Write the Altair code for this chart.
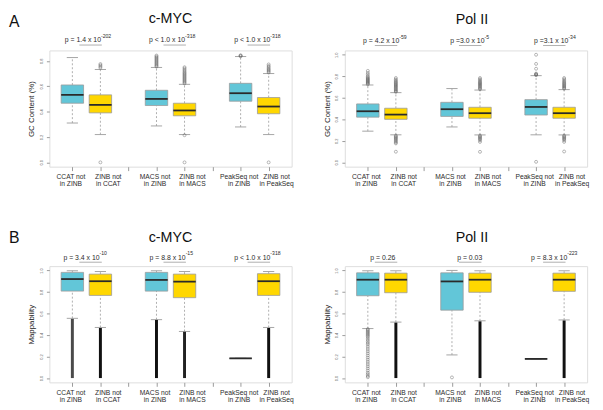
import altair as alt
import pandas as pd

FONT = "Liberation Sans"

# ---------------- shared categories ----------------
POS = [1, 2, 4, 5, 7, 8]
LABELS = ["CCAT not\nin ZINB", "ZINB not\nin CCAT", "MACS not\nin ZINB",
          "ZINB not\nin MACS", "PeakSeq not\nin ZINB", "ZINB not\nin PeakSeq"]
COLORS = ["#62C6D8", "#FFD700", "#62C6D8", "#FFD700", "#62C6D8", "#FFD700"]
XTICKS = [1, 2, 3, 4, 5, 6, 7, 8]

# ---------------- A: c-MYC GC content ----------------
MYC_GC_LW = [0.31, 0.219, 0.287, 0.219, 0.279, 0.219]
MYC_GC_Q1 = [0.466, 0.39, 0.448, 0.367, 0.482, 0.383]
MYC_GC_MED = [0.532, 0.453, 0.50, 0.409, 0.545, 0.44]
MYC_GC_Q3 = [0.61, 0.532, 0.568, 0.466, 0.623, 0.511]
MYC_GC_UW = [0.826, 0.732, 0.748, 0.615, 0.834, 0.70]
MYC_GC_OUT = [
    [],
    [0.745, 0.755, 0.765, 0.775, 0.0],
    [0.755, 0.762, 0.77, 0.778, 0.786, 0.794, 0.802, 0.81, 0.818, 0.826, 0.834, 0.842],
    [0.622, 0.63, 0.638, 0.646, 0.654, 0.662, 0.67, 0.678, 0.686, 0.694, 0.702,
     0.71, 0.72, 0.73, 0.74, 0.75, 0.214, 0.0],
    [0.836, 0.84, 0.844],
    [0.708, 0.716, 0.724, 0.732, 0.74, 0.75, 0.76, 0.772, 0.0],
]
MYC_GC_PTXT = ["p = 1.4 x 10", "p < 1.0 x 10", "p < 1.0 x 10"]
MYC_GC_PSUP = ["-202", "-318", "-318"]
MYC_GC_PANCHOR = [2.02, 5.02, 8.06]

# ---------------- A: Pol II GC content ----------------
POL_GC_LW = [0.29, 0.256, 0.329, 0.255, 0.256, 0.255]
POL_GC_Q1 = [0.42, 0.40, 0.427, 0.41, 0.44, 0.41]
POL_GC_MED = [0.475, 0.444, 0.494, 0.457, 0.515, 0.457]
POL_GC_Q3 = [0.543, 0.503, 0.558, 0.512, 0.583, 0.512]
POL_GC_UW = [0.719, 0.648, 0.686, 0.672, 0.806, 0.676]
POL_GC_OUT = [
    [0.725, 0.732, 0.739, 0.746, 0.753, 0.76, 0.767, 0.774, 0.782, 0.79, 0.80, 0.815, 0.83, 0.85],
    [0.655, 0.662, 0.67, 0.678, 0.686, 0.694, 0.702, 0.71, 0.718, 0.726, 0.734, 0.742,
     0.75, 0.76, 0.77, 0.784, 0.248, 0.24, 0.232, 0.224, 0.215, 0.205, 0.195, 0.185, 0.176, 0.099],
    [],
    [0.68, 0.688, 0.696, 0.704, 0.712, 0.72, 0.728, 0.736, 0.744, 0.752, 0.762, 0.772, 0.784,
     0.248, 0.24, 0.232, 0.224, 0.215, 0.205, 0.19, 0.098],
    [0.81, 0.815, 0.82, 0.825, 0.87, 0.915, 1.0, 0.005],
    [0.684, 0.692, 0.70, 0.708, 0.716, 0.724, 0.732, 0.74, 0.75, 0.76, 0.772, 0.784,
     0.248, 0.24, 0.232, 0.224, 0.215, 0.205, 0.19, 0.101],
]
POL_GC_PTXT = ["p = 4.2 x 10", "p =3.0 x 10", "p =3.1 x 10"]
POL_GC_PSUP = ["-59", "-5", "-34"]
POL_GC_PANCHOR = [2.12, 5.16, 8.15]

# ---------------- B: c-MYC mappability ----------------
MYC_MAP_LW = [0.555, 0.47, 0.543, 0.433, 0.183, 0.47]
MYC_MAP_Q1 = [0.808, 0.768, 0.808, 0.747, 0.183, 0.768]
MYC_MAP_MED = [0.92, 0.90, 0.912, 0.896, 0.183, 0.90]
MYC_MAP_Q3 = [0.982, 0.966, 0.982, 0.966, 0.183, 0.97]
MYC_MAP_UW = [0.997, 0.99, 0.997, 0.99, 0.183, 0.99]
MYC_MAP_OUT = [[], [], [], [], [], []]
MYC_MAP_BAND_BOX = [0, 1, 2, 3, 5]
MYC_MAP_BAND_LO = [0.0, 0.0, 0.0, 0.0, 0.0]
MYC_MAP_BAND_HI = [0.55, 0.465, 0.54, 0.43, 0.465]
MYC_MAP_BAND_SHADE = ["#4a4a4a", "#111111", "#111111", "#222222", "#111111"]
MYC_MAP_PTXT = ["p = 3.4 x 10", "p = 8.8 x 10", "p < 1.0 x 10"]
MYC_MAP_PSUP = ["-10", "-15", "-318"]
MYC_MAP_PANCHOR = [1.97, 5.04, 8.06]

# ---------------- B: Pol II mappability ----------------
POL_MAP_LW = [0.46, 0.52, 0.215, 0.532, 0.178, 0.54]
POL_MAP_Q1 = [0.765, 0.793, 0.631, 0.797, 0.178, 0.806]
POL_MAP_MED = [0.914, 0.914, 0.898, 0.914, 0.178, 0.914]
POL_MAP_Q3 = [0.978, 0.975, 0.978, 0.975, 0.178, 0.975]
POL_MAP_UW = [0.997, 0.997, 1.0, 0.997, 0.178, 0.997]
POL_MAP_OUT = [
    [0.455, 0.445, 0.435, 0.425, 0.415, 0.405, 0.395, 0.385, 0.37, 0.355, 0.34, 0.325,
     0.31, 0.29, 0.27, 0.25, 0.23, 0.21, 0.19, 0.17, 0.15, 0.13, 0.11, 0.09, 0.07,
     0.05, 0.035, 0.02, 0.008],
    [], [0.006], [], [], [],
]
POL_MAP_BAND_BOX = [1, 3, 5]
POL_MAP_BAND_LO = [0.0, 0.0, 0.0]
POL_MAP_BAND_HI = [0.515, 0.527, 0.535]
POL_MAP_BAND_SHADE = ["#111111", "#111111", "#111111"]
POL_MAP_PTXT = ["p = 0.26", "p = 0.03", "p = 8.3 x 10"]
POL_MAP_PSUP = ["", "", "-223"]
POL_MAP_PANCHOR = [1.98, 5.08, 8.11]

PLINE_LO = [1.25, 4.25, 7.25]
PLINE_HI = [2.05, 5.05, 8.05]

W = 246
H = 118
XDOM = [0.18, 8.82]
GRAY = "#9a9a9a"
TXT = "#2b2b2b"


def panel(lw, q1, med, q3, uw, outs, band_box, band_lo, band_hi, band_shade,
          ptxt, psup, panchor, title, title_dx, title_base, letter, ytitle,
          yticks, ydom, p_base, p_sup_base, p_line):
    box = pd.DataFrame({"pos": POS, "label": LABELS, "color": COLORS,
                        "lw": lw, "q1": q1, "med": med, "q3": q3, "uw": uw})
    orows = [{"pos": POS[i], "v": v} for i, lst in enumerate(outs) for v in lst]
    odf = pd.DataFrame(orows, columns=["pos", "v"])
    bdf = pd.DataFrame({"pos": [POS[i] for i in band_box], "lo": band_lo,
                        "hi": band_hi, "shade": band_shade})
    pdf = pd.DataFrame({"anchor": panchor, "ptext": ptxt, "psup": psup,
                        "plo": PLINE_LO, "phi": PLINE_HI})

    xaxis = alt.Axis(values=XTICKS, labels=False, title=None, tickSize=4,
                     tickColor=GRAY, domain=False, grid=False)
    yaxis = alt.Axis(title=ytitle, values=yticks, format=".1f", labelAngle=270,
                     labelAlign="center", labelBaseline="bottom", labelFontSize=4,
                     labelColor="#666", labelPadding=3, tickSize=3, tickColor=GRAY,
                     domain=False, grid=False, titleFontSize=8,
                     titleFontWeight="normal", titleColor="#222", titleX=-18,
                     titleY=H / 2, titleAngle=270, titleAlign="center",
                     titleBaseline="middle")
    xs = alt.Scale(domain=XDOM, nice=False, zero=False)
    ys = alt.Scale(domain=ydom, nice=False, zero=False)

    def X(f):
        return alt.X(f + ":Q", scale=xs, axis=xaxis)

    def Y(f):
        return alt.Y(f + ":Q", scale=ys, axis=yaxis)

    base = alt.Chart(box).transform_calculate(
        xlo="datum.pos - 0.4", xhi="datum.pos + 0.4",
        clo="datum.pos - 0.2", chi="datum.pos + 0.2")

    layers = []
    layers.append(base.mark_rule(strokeWidth=0.8, strokeDash=[2, 2], stroke=GRAY).encode(
        x=X("pos"), y=Y("lw"), y2="q1"))
    layers.append(base.mark_rule(strokeWidth=0.8, strokeDash=[2, 2], stroke=GRAY).encode(
        x=X("pos"), y=Y("q3"), y2="uw"))
    layers.append(base.mark_rule(strokeWidth=0.9, stroke=GRAY).encode(
        x=X("clo"), x2="chi", y=Y("lw")))
    layers.append(base.mark_rule(strokeWidth=0.9, stroke=GRAY).encode(
        x=X("clo"), x2="chi", y=Y("uw")))
    if len(bdf):
        layers.append(alt.Chart(bdf).mark_rule(strokeWidth=3.0).encode(
            x=X("pos"), y=Y("lo"), y2="hi",
            stroke=alt.Stroke("shade:N", scale=None, legend=None)))
    layers.append(base.mark_rect(stroke=GRAY, strokeWidth=0.8).encode(
        x=X("xlo"), x2="xhi", y=Y("q1"), y2="q3",
        fill=alt.Fill("color:N", scale=None, legend=None)))
    layers.append(base.mark_rule(strokeWidth=1.8, stroke="#2a2a2a").encode(
        x=X("xlo"), x2="xhi", y=Y("med")))
    if len(odf):
        layers.append(alt.Chart(odf).mark_point(
            shape="circle", filled=False, size=9, strokeWidth=0.6,
            stroke="#555555").encode(x=X("pos"), y=Y("v")))
    # p-value annotations
    pch = alt.Chart(pdf)
    layers.append(pch.mark_text(align="right", baseline="alphabetic", fontSize=7,
                                font=FONT, fill=TXT).encode(
        x=X("anchor"), y=alt.value(p_base), text="ptext:N"))
    layers.append(pch.mark_text(align="left", baseline="alphabetic", fontSize=5.2,
                                font=FONT, fill=TXT).encode(
        x=X("anchor"), y=alt.value(p_sup_base), text="psup:N"))
    layers.append(pch.mark_rule(strokeWidth=0.8, stroke=GRAY).encode(
        x=X("plo"), x2="phi", y=alt.value(p_line)))
    # category labels (first of each pair slightly left, second shifted right)
    lab = alt.Chart(box)
    layers.append(lab.transform_filter(f"datum.color == '{COLORS[0]}'").mark_text(
        align="center", baseline="alphabetic", fontSize=6.8, lineBreak="\n",
        lineHeight=7.5, font=FONT, fill=TXT, dx=-1.5).encode(
        x=X("pos"), y=alt.value(H + 12.5), text="label:N"))
    layers.append(lab.transform_filter(f"datum.color == '{COLORS[1]}'").mark_text(
        align="center", baseline="alphabetic", fontSize=6.8, lineBreak="\n",
        lineHeight=7.5, font=FONT, fill=TXT, dx=8).encode(
        x=X("pos"), y=alt.value(H + 12.5), text="label:N"))
    # panel title
    tdf = pd.DataFrame({"ttl": [title]})
    layers.append(alt.Chart(tdf).mark_text(
        align="center", baseline="alphabetic", fontSize=14.5,
        font=FONT, fill="#111111").encode(
        x=alt.value(W / 2 + title_dx), y=alt.value(title_base), text="ttl:N"))
    if letter:
        ldf = pd.DataFrame({"let": [letter]})
        layers.append(alt.Chart(ldf).mark_text(
            align="left", baseline="alphabetic", fontSize=16,
            font=FONT, fill="#111111").encode(
            x=alt.value(-41), y=alt.value(-23.5), text="let:N"))
    return alt.layer(*layers).properties(width=W, height=H)


a1 = panel(MYC_GC_LW, MYC_GC_Q1, MYC_GC_MED, MYC_GC_Q3, MYC_GC_UW, MYC_GC_OUT,
           [], [], [], [], MYC_GC_PTXT, MYC_GC_PSUP, MYC_GC_PANCHOR,
           "c-MYC", 0, -27.5, "A", "GC Content (%)", [0.0, 0.2, 0.4, 0.6, 0.8],
           [-0.034, 0.882], -8.5, -13, -5.5)
a2 = panel(POL_GC_LW, POL_GC_Q1, POL_GC_MED, POL_GC_Q3, POL_GC_UW, POL_GC_OUT,
           [], [], [], [], POL_GC_PTXT, POL_GC_PSUP, POL_GC_PANCHOR,
           "Pol II", 6, -27, "", "GC Content (%)", [0.0, 0.2, 0.4, 0.6, 0.8, 1.0],
           [-0.04, 1.04], -7.5, -12, -5)
b1 = panel(MYC_MAP_LW, MYC_MAP_Q1, MYC_MAP_MED, MYC_MAP_Q3, MYC_MAP_UW, MYC_MAP_OUT,
           MYC_MAP_BAND_BOX, MYC_MAP_BAND_LO, MYC_MAP_BAND_HI, MYC_MAP_BAND_SHADE,
           MYC_MAP_PTXT, MYC_MAP_PSUP, MYC_MAP_PANCHOR,
           "c-MYC", 0, -24.3, "B", "Mappability", [0.0, 0.2, 0.4, 0.6, 0.8, 1.0],
           [-0.04, 1.04], -6.5, -11.5, -4)
b2 = panel(POL_MAP_LW, POL_MAP_Q1, POL_MAP_MED, POL_MAP_Q3, POL_MAP_UW, POL_MAP_OUT,
           POL_MAP_BAND_BOX, POL_MAP_BAND_LO, POL_MAP_BAND_HI, POL_MAP_BAND_SHADE,
           POL_MAP_PTXT, POL_MAP_PSUP, POL_MAP_PANCHOR,
           "Pol II", 6, -24.3, "", "Mappability", [0.0, 0.2, 0.4, 0.6, 0.8, 1.0],
           [-0.04, 1.04], -6.5, -11.5, -4)

chart = alt.concat(a1, a2, b1, b2, columns=2, bounds="flush",
                   spacing={"row": 101, "column": 54}).properties(
    padding={"left": 0, "top": 0, "right": 5, "bottom": 5},
    background="white",
).configure_view(stroke="#999999", strokeWidth=1).configure(font=FONT)

chart.save("out.html", embed_options={"renderer": "svg", "actions": False})
